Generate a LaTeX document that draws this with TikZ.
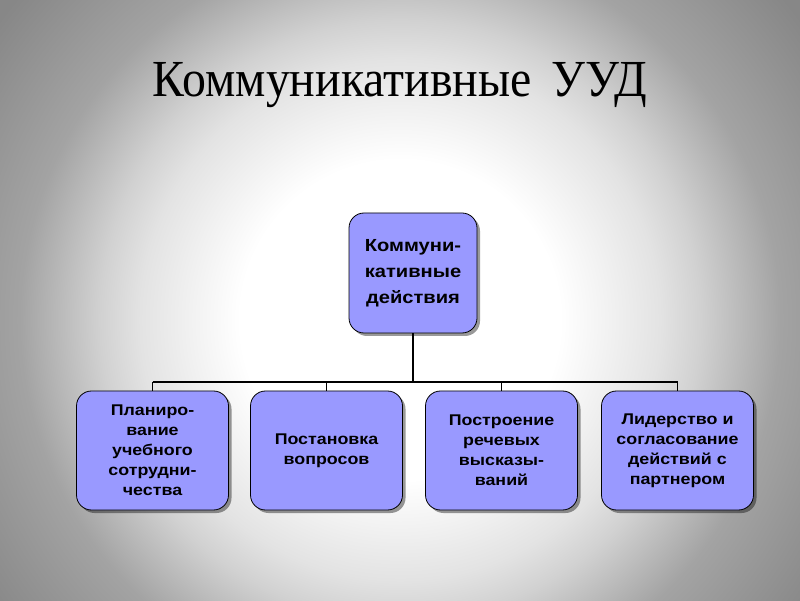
\documentclass[tikz,border=0pt]{standalone}
\usepackage{fontspec}
\setmainfont{Liberation Serif}
\newfontfamily\boxfont[FakeStretch=1.15]{Liberation Sans}
\usetikzlibrary{shadows}
\pgfdeclareradialshading{bgshade}{\pgfpoint{0bp}{0bp}}{color(0bp)=(white); color(8bp)=(white); color(13bp)=(black!11); color(15bp)=(black!18); color(19bp)=(black!36); color(25bp)=(black!47); color(50bp)=(black!47)}
\definecolor{boxfill}{RGB}{153,153,255}
\tikzset{
  uudbox/.style={draw=black, line width=0.8pt, fill=boxfill, rounded corners=15pt,
    align=center, inner sep=2pt, font=\boxfont\bfseries\fontsize{15.5}{20}\selectfont,
    drop shadow={shadow xshift=3pt, shadow yshift=-3pt, fill=black, opacity=0.4}},
  topbox/.style={uudbox, minimum width=128pt, minimum height=120pt, text width=124pt,
    font=\boxfont\bfseries\fontsize{17.5}{26}\selectfont},
  lowbox/.style={uudbox, minimum width=152pt, minimum height=119pt, text width=148pt},
  conn/.style={draw=black, line width=1.1pt}
}
\begin{document}
\begin{tikzpicture}[x=1pt,y=1pt]
\useasboundingbox (0,0) rectangle (800,600);
\begin{scope}
\clip (0,0) rectangle (800,600);
\shade[shading=bgshade] (-100,-220) rectangle (900,780);
\end{scope}
\node[font=\fontsize{52}{60}\selectfont, anchor=base, xscale=0.92] (title) at (400,503) {Коммуникативные\, УУД};
\node[topbox] (top) at (413,327) {Коммуни-\\кативные\\действия};
\node[lowbox] (b1) at (152.5,149.5) {Планиро-\\вание\\учебного\\сотрудни-\\чества};
\node[lowbox] (b2) at (326.5,149.5) {Постановка\\вопросов};
\node[lowbox] (b3) at (501.5,149.5) {Построение\\речевых\\высказы-\\ваний};
\node[lowbox] (b4) at (677.5,149.5) {Лидерство и\\согласование\\действий с\\партнером};
\coordinate (bus) at (413,218);
\draw[conn] (top.south) -- (bus);
\draw[conn] (b1.north |- bus) -- (b4.north |- bus);
\foreach \b in {b1,b2,b3,b4} \draw[conn] (\b.north |- bus) -- (\b.north);
\end{tikzpicture}
\end{document}
